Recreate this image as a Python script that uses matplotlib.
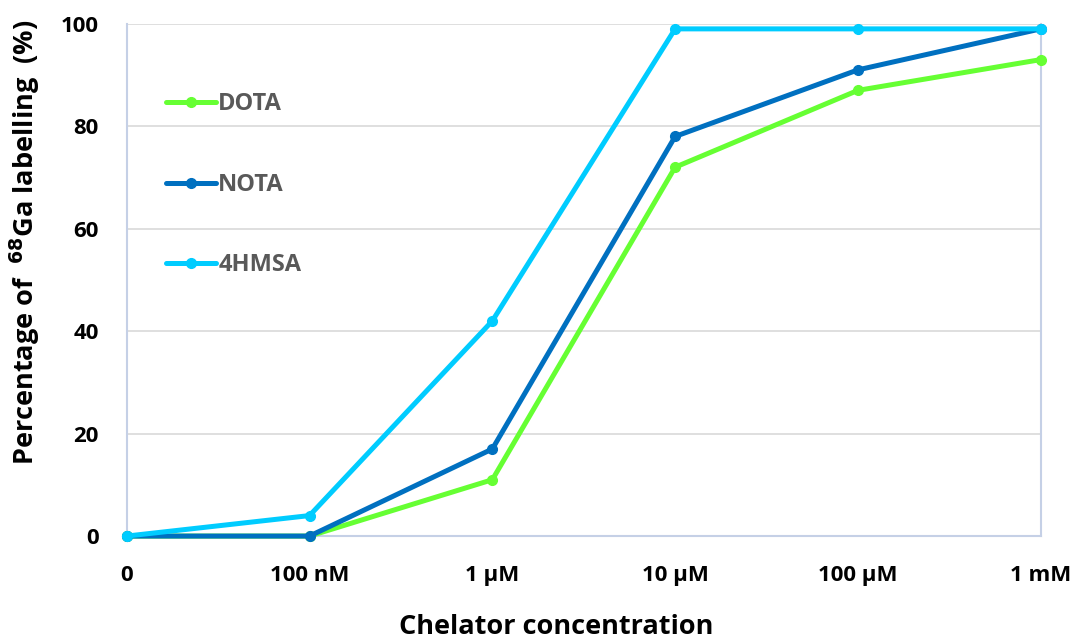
import matplotlib
matplotlib.use("Agg")
import matplotlib.pyplot as plt

plt.rcParams['font.family'] = ['Open Sans', 'DejaVu Sans']

concentrations = ['0', '100 nM', '1 µM', '10 µM', '100 µM', '1 mM']
dota = [0, 0, 11, 72, 87, 93]
nota = [0, 0, 17, 78, 91, 99]
hmsa = [0, 4, 42, 99, 99, 99]

series = [
    ('DOTA', dota, '#66FF33'),
    ('NOTA', nota, '#0070C0'),
    ('4HMSA', hmsa, '#00CCFF'),
]

fig = plt.figure(figsize=(10.83, 6.42), dpi=100)
ax = fig.add_axes([0.117, 0.165, 0.844, 0.798])

x = range(len(concentrations))
for i, (name, vals, color) in enumerate(series):
    ax.plot(x, vals, color=color, linewidth=3.6, marker='o', markersize=7,
            label=name, zorder=3 + i, clip_on=False, solid_capstyle='round')

ax.set_xlim(0, len(concentrations) - 1)
ax.set_ylim(0, 100)
ax.set_yticks([0, 20, 40, 60, 80, 100])
ax.set_xticks(list(x))
ax.set_xticklabels(concentrations)

ax.yaxis.grid(True, color='#D9D9D9', linewidth=1.2)
ax.set_axisbelow(True)
ax.tick_params(axis='both', length=0, labelsize=16, colors='black')
ax.tick_params(axis='y', pad=20)
ax.tick_params(axis='x', pad=21)
for lbl in ax.get_xticklabels() + ax.get_yticklabels():
    lbl.set_fontweight('bold')

for side in ['left', 'bottom', 'right']:
    ax.spines[side].set_color('#C5D0E6')
    ax.spines[side].set_linewidth(1.5)
ax.spines['top'].set_visible(False)

ax.set_xlabel('Chelator concentration', fontsize=19.5, fontweight='bold')
ax.xaxis.set_label_coords(0.47, -0.152)
ax.set_ylabel('Percentage of  $^{\\mathbf{68}}$Ga labelling  (%)', fontsize=19.5,
              fontweight='bold')
ax.yaxis.set_label_coords(-0.093, 0.574)

leg = ax.legend(loc='upper left', bbox_to_anchor=(0.02, 0.908), frameon=False,
                fontsize=17, labelspacing=2.4, handlelength=2.1, handletextpad=0.1)
for t in leg.get_texts():
    t.set_color('#595959')
    t.set_fontweight('bold')

fig.savefig('out.png', dpi=100)
